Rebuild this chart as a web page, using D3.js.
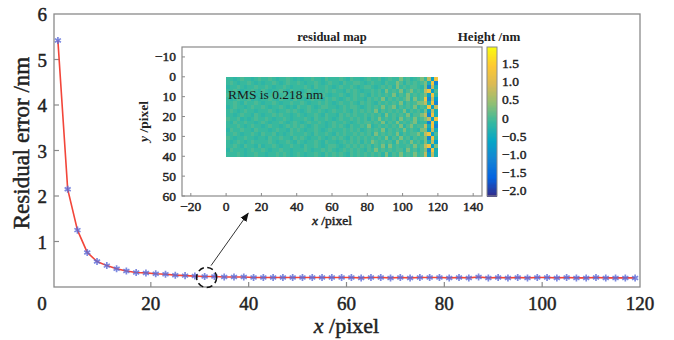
<!DOCTYPE html>
<html><head><meta charset="utf-8">
<script src="https://cdn.jsdelivr.net/npm/d3@7"></script>
<style>body{margin:0;background:#fff}svg{display:block}text{font-family:"Liberation Serif",serif;fill:#222}
.h{paint-order:stroke;stroke:#222;stroke-width:0.45px}</style>
</head><body><svg id="c" width="674" height="340"></svg>
<script>
// ---- main curve data ----
const xValues = [1,3,5,7,9,11,13,15,17,19,21,23,25,27,29,31,33,35,37,39,41,43,45,47,49,51,53,55,57,59,61,63,65,67,69,71,73,75,77,79,81,83,85,87,89,91,93,95,97,99,101,103,105,107,109,111,113,115,117,119];
const residual = [5.42,2.15,1.25,0.76,0.56,0.47,0.40,0.35,0.32,0.31,0.29,0.28,0.26,0.25,0.24,0.23,0.23,0.22,0.22,0.22,0.21,0.21,0.21,0.21,0.21,0.21,0.21,0.21,0.21,0.21,0.21,0.20,0.21,0.21,0.20,0.21,0.20,0.21,0.21,0.21,0.20,0.21,0.20,0.22,0.20,0.21,0.20,0.21,0.20,0.21,0.21,0.20,0.21,0.20,0.20,0.21,0.20,0.20,0.20,0.20];
const mainXTicks = [0,20,40,60,80,100,120];
const mainYTicks = [1,2,3,4,5,6];
// ---- inset ----
const insetXTicks = [-20,0,20,40,60,80,100,120,140];
const insetYTicks = [-10,0,10,20,30,40,50,60];
const cbTicks = [-2,-1.5,-1,-0.5,0,0.5,1,1.5];
const cbLabels = ["−2.0","−1.5","−1.0","−0.5","0","0.5","1.0","1.5"];
const digitLevels = [-2.0,-1.1,-0.7,-0.4,-0.2,-0.1,0.02,0.3,0.75,1.25];
const mapRows = [
"5545655456 5565455654 5455655465 5565465545 6556456557 5645675829",
"5654556545 4556545655 6545565456 5546556654 5655465576 4656567391",
"4556545565 5654556545 5565465565 4565565456 6545656475 6566547183",
"5565455654 6545565465 5456545565 6554656545 5656475657 4675658926",
"6554565545 5456556545 6565455654 5565456565 4656565746 5756567294",
"5456556454 5565465546 5545655465 6545656554 6565746565 6747569182",
"5565465565 4556545565 5654556565 4565565465 6546565657 4656778391",
"4565545655 6545565454 6556545665 5456566545 6565756746 5657465928",
"5654565545 5565455656 5456556545 6556546565 6574656565 7465647283",
"5545655465 4556565545 6545565465 5465656556 5656475656 5746678193",
"6556454565 5654556545 5565465565 4565565656 4657565647 5657567829",
"5465565545 6545565456 5456556545 6556545656 6565746575 6567455192",
"5556545655 4565545656 5654565545 6565465565 7456565657 4675668391",
"4655655465 5545655465 6545565456 5556565645 6565746565 7565477283",
"5565455654 6556454565 5565465565 4656556565 6475656574 6566758926",
"6545565545 5465565546 5654556545 6565465656 5656574657 5646567194",
"5456545655 5565455654 6545565465 5456565646 5765656475 6575647382",
"5565465546 4556545565 5465565456 6545656565 6465747565 5657568927",
"4655545655 6545565545 5565455656 5456565654 6575656566 4756467193",
"5556545565 5455656545 6545565465 6565465656 5656474657 5657568283"
];
const cbDomain = [-2.15, 1.96];
const parula = ["#352a87","#0363e1","#1485d4","#06a7c6","#38b99e","#92bf73","#d9ba56","#fec832","#f9fb0e"];

const svg = d3.select("#c");
const x = d3.scaleLinear().domain([0,120]).range([53,640]);
const y = d3.scaleLinear().domain([0,6]).range([287,14]);
const axisCol = "#8a8a8a";

// frame
svg.append("rect").attr("x",x(0)+1).attr("y",y(6)).attr("width",x(120)-x(0)-1).attr("height",y(0)-y(6))
  .attr("fill","none").attr("stroke",axisCol).attr("stroke-width",1.3);
svg.append("g").selectAll("line").data(mainXTicks.filter(d=>d>0&&d<120)).join("line")
  .attr("x1",d=>x(d)).attr("x2",d=>x(d)).attr("y1",y(0)).attr("y2",y(0)-5).attr("stroke",axisCol).attr("stroke-width",1.2);
svg.append("g").selectAll("line").data(mainYTicks.filter(d=>d<6)).join("line")
  .attr("x1",x(0)+1).attr("x2",x(0)+6).attr("y1",d=>y(d)).attr("y2",d=>y(d)).attr("stroke",axisCol).attr("stroke-width",1.2);
svg.append("g").selectAll("text").data(mainXTicks).join("text").attr("class","h")
  .attr("x",d=>x(d)+(d===0?-11:0)).attr("y",y(0)+23).attr("text-anchor","middle")
  .attr("font-size",19).text(d=>d);
svg.append("g").selectAll("text").data(mainYTicks).join("text").attr("class","h")
  .attr("x",x(0)-6).attr("y",d=>y(d)+7).attr("text-anchor","end")
  .attr("font-size",19).text(d=>d);
const xl = svg.append("text").attr("class","h").attr("x",(x(0)+x(120))/2).attr("y",333).attr("text-anchor","middle").attr("font-size",22);
xl.append("tspan").attr("font-style","italic").text("x");
xl.append("tspan").text(" /pixel");
svg.append("text").attr("class","h").attr("transform",`translate(29,143) rotate(-90)`).attr("text-anchor","middle")
  .attr("font-size",23).text("Residual error /nm");

// curve
const pts = xValues.map((v,i)=>[v,residual[i]]);
svg.append("path").datum(pts).attr("fill","none").attr("stroke","#f2463a").attr("stroke-width",1.6)
  .attr("d",d3.line().x(d=>x(d[0])).y(d=>y(d[1])));
const star = d3.symbol().type(d3.symbolAsterisk).size(34);
svg.append("g").selectAll("path").data(pts).join("path")
  .attr("transform",d=>`translate(${x(d[0])},${y(d[1])})`).attr("d",star)
  .attr("fill","none").attr("stroke","#5a6ad8").attr("stroke-width",1.7).attr("stroke-opacity",0.8);

// annotation circle + arrow
const cx = x(31.4), cy = y(0.21);
svg.append("circle").attr("cx",cx).attr("cy",cy).attr("r",10).attr("fill","none")
  .attr("stroke","#111").attr("stroke-width",1.5).attr("stroke-dasharray","6,3.5");
const a0 = [x(32.3), y(0.47)], a1 = [x(39.9), y(1.62)];
svg.append("defs").append("marker").attr("id","ah").attr("viewBox","0 0 10 10").attr("refX",9).attr("refY",5)
  .attr("markerWidth",9).attr("markerHeight",9).attr("markerUnits","userSpaceOnUse").attr("orient","auto")
  .append("path").attr("d","M0,1 L10,5 L0,9 Z").attr("fill","#111");
svg.append("line").attr("x1",a0[0]).attr("y1",a0[1]).attr("x2",a1[0]).attr("y2",a1[1])
  .attr("stroke","#333").attr("stroke-width",1).attr("marker-end","url(#ah)");

// ---- inset ----
const ix = d3.scaleLinear().domain([-25,145]).range([182,482]);
const iy = d3.scaleLinear().domain([-15,60]).range([47,196]);
const color = d3.scaleSequential(d3.piecewise(d3.interpolateRgb, parula)).domain(cbDomain);

const hm = svg.append("g").attr("shape-rendering","crispEdges");
const nr = mapRows.length;
mapRows.forEach((raw,r)=>{
  const row = raw.replace(/ /g,"");
  const nc = row.length;
  const cells = row.split("").map((ch,c)=>({c, v:digitLevels[+ch], nc}));
  hm.selectAll(null).data(cells).enter().append("rect")
    .attr("x",d=>ix(d.c*120/d.nc)).attr("width",d=>ix((d.c+1)*120/d.nc)-ix(d.c*120/d.nc)+0.3)
    .attr("y",iy(r*40/nr)).attr("height",iy((r+1)*40/nr)-iy(r*40/nr)+0.3)
    .attr("fill",d=>color(d.v));
});
svg.append("text").attr("x",ix(1)).attr("y",iy(11.3)).attr("font-size",13.5).style("fill","#1a1a1a").text("RMS is 0.218 nm");

svg.append("rect").attr("x",ix(-25)).attr("y",iy(-15)).attr("width",ix(145)-ix(-25)).attr("height",iy(60)-iy(-15))
  .attr("fill","none").attr("stroke",axisCol).attr("stroke-width",1.2);
svg.append("g").selectAll("line").data(insetXTicks).join("line")
  .attr("x1",d=>ix(d)).attr("x2",d=>ix(d)).attr("y1",iy(60)).attr("y2",iy(60)-3).attr("stroke",axisCol);
svg.append("g").selectAll("line").data(insetYTicks).join("line")
  .attr("x1",ix(-25)).attr("x2",ix(-25)+3).attr("y1",d=>iy(d)).attr("y2",d=>iy(d)).attr("stroke",axisCol);
svg.append("g").selectAll("text").data(insetXTicks).join("text").attr("class","h")
  .attr("x",d=>ix(d)).attr("y",iy(60)+15).attr("text-anchor","middle").attr("font-size",13.5)
  .text(d=>d<0?"−"+(-d):d);
svg.append("g").selectAll("text").data(insetYTicks).join("text").attr("class","h")
  .attr("x",ix(-25)-6).attr("y",d=>iy(d)+4.5).attr("text-anchor","end").attr("font-size",13.5)
  .text(d=>d<0?"−"+(-d):d);
const ixl = svg.append("text").attr("class","h").attr("x",(ix(-25)+ix(145))/2).attr("y",iy(60)+29).attr("text-anchor","middle").attr("font-size",13.5);
ixl.append("tspan").attr("font-style","italic").text("x");
ixl.append("tspan").text(" /pixel");
const iyl = svg.append("text").attr("transform",`translate(148,${(iy(-15)+iy(60))/2}) rotate(-90)`).attr("text-anchor","middle")
  .attr("font-size",13.5).attr("font-weight","bold");
iyl.append("tspan").attr("font-style","italic").text("y");
iyl.append("tspan").text(" /pixel");
svg.append("text").attr("x",(ix(-25)+ix(145))/2).attr("y",41).attr("text-anchor","middle").attr("font-size",12.5)
  .attr("font-weight","bold").text("residual map");

// colorbar
const cbx = 487, cbw = 10;
const cy2 = d3.scaleLinear().domain(cbDomain).range([iy(60), iy(-15)]);
const steps = d3.range(0,120).map(i=>cbDomain[0]+(cbDomain[1]-cbDomain[0])*i/120);
const dstep = (cbDomain[1]-cbDomain[0])/120;
svg.append("g").attr("shape-rendering","crispEdges").selectAll("rect").data(steps).join("rect")
  .attr("x",cbx).attr("width",cbw).attr("y",d=>cy2(d+dstep)).attr("height",d=>cy2(d)-cy2(d+dstep)+0.5)
  .attr("fill",d=>color(d+dstep/2));
svg.append("rect").attr("x",cbx).attr("y",iy(-15)).attr("width",cbw).attr("height",iy(60)-iy(-15))
  .attr("fill","none").attr("stroke",axisCol).attr("stroke-width",1);
svg.append("g").selectAll("text").data(cbTicks).join("text").attr("class","h")
  .attr("x",cbx+cbw+5).attr("y",d=>cy2(d)+4.5).attr("font-size",13.5).text((d,i)=>cbLabels[i]);
svg.append("text").attr("x",cbx+2).attr("y",41).attr("text-anchor","middle").attr("font-size",13)
  .attr("font-weight","bold").text("Height /nm");
</script></body></html>
